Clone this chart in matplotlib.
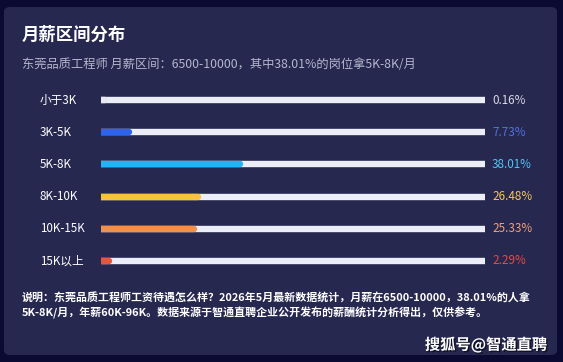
import matplotlib.pyplot as plt
import matplotlib.transforms as mtransforms
from matplotlib.patches import FancyBboxPatch
import matplotlib.patheffects as pe

plt.rcParams['font.family'] = ['Noto Sans CJK SC', 'DejaVu Sans']

categories = ['小于3K', '3K-5K', '5K-8K', '8K-10K', '10K-15K', '15K以上']
shares = [0.16, 7.73, 38.01, 26.48, 25.33, 2.29]
bar_colors = ['#e8e9f3', '#2f63ec', '#22b4f4', '#f8c23a', '#f2904a', '#e8553c']
label_colors = ['#d8dae6', '#4f72e3', '#4fc6f4', '#f6c659', '#f4a079', '#ea4b3c']
track_max = 105

W, H = 563, 362
fig = plt.figure(figsize=(W / 100, H / 100), dpi=100)
fig.patch.set_facecolor('#0a0a32')

# card background
card = FancyBboxPatch((4 / W, 7 / H), 553 / W, 348 / H,
                      boxstyle='round,pad=0,rounding_size=0.012',
                      transform=fig.transFigure, facecolor='#262850',
                      edgecolor='none', zorder=-5)
fig.patches.append(card)

fig.text(22 / W, 1 - 35 / H, '月薪区间分布', color='white', fontsize=12.5,
         fontweight='bold', va='center', ha='left')
fig.text(22 / W, 1 - 64 / H,
         '东莞品质工程师 月薪区间：6500-10000，其中38.01%的岗位拿5K-8K/月',
         color='#b4b7cc', fontsize=8.8, va='center', ha='left')

ax = fig.add_axes([101 / W, 1 - 277 / H, 384 / W, 193 / H])
ax.set_facecolor('none')
ax.set_xlim(0, track_max)
ax.set_ylim(len(categories) - 0.5, -0.5)
ax.axis('off')

for i, val in enumerate(shares):
    ax.plot([0, track_max], [i, i], color='#eceef7', lw=4.6,
            solid_capstyle='round', zorder=1)
    ax.plot([0, max(val, 1.2)], [i, i], color=bar_colors[i], lw=4.6,
            solid_capstyle='round', zorder=2)

# labels on both sides of the tracks
trans_lab = mtransforms.blended_transform_factory(fig.transFigure, ax.transData)
for i, (cat, val) in enumerate(zip(categories, shares)):
    fig.text(40 / W, i, cat, transform=trans_lab, color='white',
             fontsize=8.4, fontweight='medium', va='center', ha='left')
    fig.text(492 / W, i, f'{val:.2f}%', transform=trans_lab,
             color=label_colors[i], fontsize=8.4, va='center', ha='left')

fig.text(22 / W, 1 - 297 / H,
         '说明：东莞品质工程师工资待遇怎么样？2026年5月最新数据统计，月薪在6500-10000，38.01%的人拿',
         color='white', fontsize=7.9, fontweight='bold', va='center', ha='left')
fig.text(22 / W, 1 - 313 / H,
         '5K-8K/月，年薪60K-96K。数据来源于智通直聘企业公开发布的薪酬统计分析得出，仅供参考。',
         color='white', fontsize=7.9, fontweight='bold', va='center', ha='left')

fig.text(547 / W, 1 - 345 / H, '搜狐号@智通直聘', color='white', fontsize=11,
         fontweight='bold', va='center', ha='right',
         path_effects=[pe.withSimplePatchShadow(offset=(1, -1), shadow_rgbFace='black', alpha=0.6)])

fig.savefig('out.png', dpi=100, facecolor=fig.get_facecolor())
